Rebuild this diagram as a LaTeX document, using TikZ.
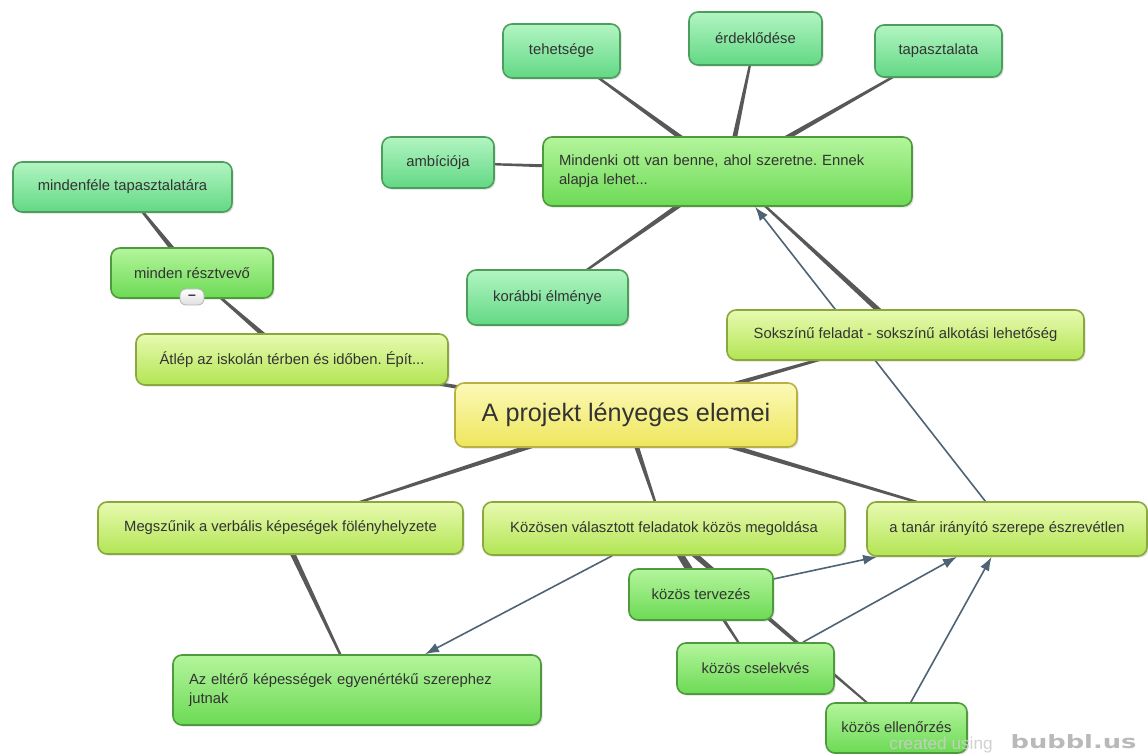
\documentclass[tikz,border=0pt]{standalone}
\usepackage{fontspec}
\setmainfont{Liberation Sans}
\newfontfamily\bubblfont{DejaVu Sans}
\usetikzlibrary{shadows,backgrounds,arrows.meta,calc}
\frenchspacing

\definecolor{txtgray}{HTML}{333333}
\definecolor{linkgray}{HTML}{585858}
\definecolor{arrowblue}{HTML}{4E6476}
\definecolor{minttop}{HTML}{B2F5C2}
\definecolor{mintbot}{HTML}{62D884}
\definecolor{mintline}{HTML}{4C9E5C}
\definecolor{greentop}{HTML}{B4F59C}
\definecolor{greenbot}{HTML}{6CDA55}
\definecolor{greenline}{HTML}{4F9A3C}
\definecolor{limetop}{HTML}{E8FAB0}
\definecolor{limebot}{HTML}{B2E554}
\definecolor{limeline}{HTML}{8AA83C}
\definecolor{yellowtop}{HTML}{FCF9B8}
\definecolor{yellowbot}{HTML}{EEE65C}
\definecolor{yellowline}{HTML}{B9B042}

\tikzset{
  bubble/.style={rounded corners=4.5pt, line width=0.8pt, text=txtgray,
    font=\fontsize{7.4}{9.6}\selectfont, inner sep=0pt,
    drop shadow={shadow xshift=0.8pt, shadow yshift=-0.8pt, opacity=0.25}},
  mintbox/.style={bubble, draw=mintline, top color=minttop, bottom color=mintbot},
  greenbox/.style={bubble, draw=greenline, top color=greentop, bottom color=greenbot},
  limebox/.style={bubble, draw=limeline, top color=limetop, bottom color=limebot},
  rootbox/.style={bubble, draw=yellowline, top color=yellowtop, bottom color=yellowbot,
    font=\fontsize{12.6}{15}\selectfont},
  boxsize/.style 2 args={minimum width=#1, minimum height=#2},
  twoline/.style={align=left, text width=#1, inner xsep=8pt},
  % vastag a szulonel, vekony a gyereknel
  taper/.style={fill=linkgray, to path={let \p1=(\tikztostart), \p2=(\tikztotarget),
    \n1={atan2(\y2-\y1,\x2-\x1)} in
    ($(\p1)+({\n1+90}:1.5pt)$) -- ($(\p1)+({\n1-90}:1.5pt)$) --
    ($(\p2)+({\n1-90}:0.35pt)$) -- ($(\p2)+({\n1+90}:0.35pt)$) -- cycle}},
  arrowlink/.style={draw=arrowblue, line width=0.8pt, -{Latex[length=7pt,width=5pt]}},
  minusbtn/.style={rounded corners=3pt, draw=gray!60, top color=white, bottom color=gray!25,
    minimum width=12pt, minimum height=8pt, inner sep=0pt, font=\fontsize{7}{7}\bfseries, text=txtgray},
}

\begin{document}
\begin{tikzpicture}[x=0.5pt, y=-0.5pt]

\useasboundingbox (0,0) rectangle (1148,754);

\node[rootbox, boxsize={171pt}{32pt}] (ctr) at (626,415) {A projekt lényeges elemei};

\node[greenbox, twoline=168.5pt, minimum height=34.5pt] (mind) at (727.5,171.5) {Mindenki ott van benne, ahol szeretne. Ennek\\ alapja lehet...};
\node[mintbox, boxsize={58.5pt}{27pt}] (tehet) at (561.5,51) {tehetsége};
\node[mintbox, boxsize={66.5pt}{26.5pt}] (erdek) at (755.5,38.5) {érdeklődése};
\node[mintbox, boxsize={63.5pt}{26pt}] (tapasz) at (938.5,51) {tapasztalata};
\node[mintbox, boxsize={56pt}{25.5pt}] (ambic) at (438,162.5) {ambíciója};
\node[mintbox, boxsize={80.5pt}{27.5pt}] (korab) at (547.5,297.5) {korábbi élménye};

\node[limebox, boxsize={178.5pt}{25pt}] (sokszin) at (905.5,335) {Sokszínű feladat - sokszínű alkotási lehetőség};
\node[limebox, boxsize={156pt}{25.5pt}] (atlep) at (292,359.5) {Átlép az iskolán térben és időben. Épít...};
\node[greenbox, boxsize={81pt}{25pt}] (minden) at (192,273) {minden résztvevő};
\node[minusbtn] (minus) at (192,297) {--};
\node[mintbox, boxsize={109.5pt}{25pt}] (mfele) at (122.5,187) {mindenféle tapasztalatára};

\node[limebox, boxsize={182.5pt}{26pt}] (megsz) at (280.5,528) {Megszűnik a verbális képeségek fölényhelyzete};
\node[limebox, boxsize={181pt}{26.5pt}] (kozos) at (664,528.5) {Közösen választott feladatok közös megoldása};
\node[limebox, boxsize={140pt}{27pt}] (tanar) at (1007,529) {a tanár irányító szerepe észrevétlen};

\node[greenbox, boxsize={72pt}{25.5pt}] (terv) at (701,594.5) {közös tervezés};
\node[greenbox, boxsize={78.5pt}{25.5pt}] (csel) at (755.5,668.5) {közös cselekvés};
\node[greenbox, boxsize={70.5pt}{25pt}, text depth=0pt, text height=5pt] (ellen) at (896.5,728) {közös ellenőrzés};
\node[greenbox, twoline=168pt, minimum height=35pt] (elter) at (357,690) {Az eltérő képességek egyenértékű szerephez\\ jutnak};

\begin{scope}[on background layer]
  \fill[white] (0,0) rectangle (1148,754);
  \foreach \a/\b in {ctr/atlep, ctr/sokszin, ctr/megsz, ctr/kozos, ctr/tanar,
      sokszin/mind, mind/tehet, mind/erdek, mind/tapasz, mind/korab, mind/ambic,
      atlep/minden, minden/mfele, megsz/elter, kozos/terv, kozos/csel, kozos/ellen}
    \path[taper] (\a) to (\b);
  % nyilak
  \draw[arrowlink] (kozos) -- (elter);
  \draw[arrowlink] (terv) -- (tanar);
  \draw[arrowlink] (csel) -- (tanar);
  \draw[arrowlink] (ellen) -- (tanar);
  \draw[arrowlink] (tanar) -- (mind);
\end{scope}

\node[anchor=base west, text=gray!40, opacity=0.9, font=\fontsize{8.6}{8.6}\selectfont, inner sep=0pt] (made) at (889,749) {created using};
\node[anchor=base west, text=gray!55, font=\bubblfont\bfseries\fontsize{9.2}{9.2}\selectfont, inner sep=0pt, xscale=1.4] (bubbl) at (1010,748) {bubbl.us};

\end{tikzpicture}
\end{document}
